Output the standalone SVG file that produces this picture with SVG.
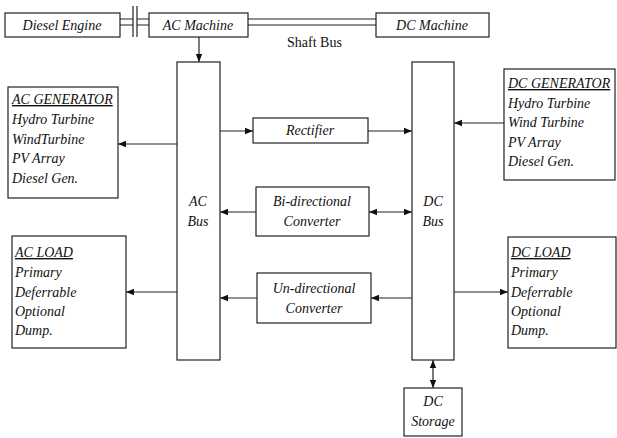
<svg xmlns="http://www.w3.org/2000/svg" width="617" height="438" viewBox="0 0 617 438">
<style>
.b{fill:#fff;stroke:#222;stroke-width:1.2}
.l{fill:none;stroke:#222;stroke-width:1.2}
.t{font-family:"Liberation Serif",serif;font-style:italic;font-size:14px;fill:#111}
.c{text-anchor:middle}
.r{font-family:"Liberation Serif",serif;font-size:14px;fill:#111}
</style>
<defs>
<marker id="a" viewBox="0 0 10 10" refX="10" refY="5" markerWidth="8" markerHeight="8" markerUnits="userSpaceOnUse" orient="auto-start-reverse"><path d="M0,1 L10,5 L0,9 z" fill="#111"/></marker>
</defs>
<rect width="617" height="438" fill="#fff"/>
<g id="connectors">
<path class="l" d="M120,19 H133 M120,25 H133 M137,19 H149 M137,25 H149 M133,6 V37 M137,6 V37"/>
<path class="l" d="M248,19 H376 M248,25 H376"/>
<line class="l" x1="199" y1="37" x2="199" y2="62" marker-end="url(#a)"/>
<line class="l" x1="177" y1="144" x2="118" y2="144" marker-end="url(#a)"/>
<line class="l" x1="504" y1="123" x2="454" y2="123" marker-end="url(#a)"/>
<line class="l" x1="177" y1="292" x2="126" y2="292" marker-end="url(#a)"/>
<line class="l" x1="454" y1="292" x2="508" y2="292" marker-end="url(#a)"/>
<line class="l" x1="220" y1="131" x2="253" y2="131" marker-end="url(#a)"/>
<line class="l" x1="368" y1="131" x2="412" y2="131" marker-end="url(#a)"/>
<line class="l" x1="256" y1="212" x2="220" y2="212" marker-end="url(#a)"/>
<line class="l" x1="369" y1="212" x2="412" y2="212" marker-start="url(#a)" marker-end="url(#a)"/>
<line class="l" x1="412" y1="298" x2="371" y2="298" marker-end="url(#a)"/>
<line class="l" x1="257" y1="298" x2="220" y2="298" marker-end="url(#a)"/>
<line class="l" x1="433" y1="360" x2="433" y2="388" marker-start="url(#a)" marker-end="url(#a)"/>
</g>
<text class="r" x="287" y="47">Shaft Bus</text>
<g id="diesel-engine"><rect class="b" x="5" y="13" width="115" height="24"/><text class="t c" x="62" y="30">Diesel Engine</text></g>
<g id="ac-machine"><rect class="b" x="149" y="13" width="99" height="24"/><text class="t c" x="198" y="30">AC Machine</text></g>
<g id="dc-machine"><rect class="b" x="376" y="13" width="113" height="24"/><text class="t c" x="432" y="30">DC Machine</text></g>
<g id="ac-bus"><rect class="b" x="177" y="62" width="43" height="298"/><text class="t c" x="198" y="206">AC</text><text class="t c" x="198" y="226">Bus</text></g>
<g id="dc-bus"><rect class="b" x="412" y="62" width="42" height="298"/><text class="t c" x="433" y="206">DC</text><text class="t c" x="433" y="226">Bus</text></g>
<g id="ac-generator"><rect class="b" x="8" y="87" width="110" height="111"/>
<text class="t" x="12" y="104" text-decoration="underline">AC GENERATOR</text>
<text class="t" x="12" y="124">Hydro Turbine</text>
<text class="t" x="12" y="143.5">WindTurbine</text>
<text class="t" x="12" y="163">PV Array</text>
<text class="t" x="12" y="182.5">Diesel Gen.</text></g>
<g id="dc-generator"><rect class="b" x="504" y="69" width="111" height="111"/>
<text class="t" x="508" y="88" text-decoration="underline">DC GENERATOR</text>
<text class="t" x="508" y="107.5">Hydro Turbine</text>
<text class="t" x="508" y="127">Wind Turbine</text>
<text class="t" x="508" y="146.5">PV Array</text>
<text class="t" x="508" y="166">Diesel Gen.</text></g>
<g id="ac-load"><rect class="b" x="12" y="236" width="114" height="112"/>
<text class="t" x="15" y="257" text-decoration="underline">AC LOAD</text>
<text class="t" x="15" y="277">Primary</text>
<text class="t" x="15" y="297">Deferrable</text>
<text class="t" x="15" y="316">Optional</text>
<text class="t" x="15" y="335">Dump.</text></g>
<g id="dc-load"><rect class="b" x="508" y="237" width="108" height="111"/>
<text class="t" x="511" y="257" text-decoration="underline">DC LOAD</text>
<text class="t" x="511" y="277">Primary</text>
<text class="t" x="511" y="297">Deferrable</text>
<text class="t" x="511" y="316">Optional</text>
<text class="t" x="511" y="335">Dump.</text></g>
<g id="rectifier"><rect class="b" x="253" y="118" width="115" height="25"/><text class="t c" x="310" y="135">Rectifier</text></g>
<g id="bi-converter"><rect class="b" x="256" y="187" width="113" height="49"/><text class="t c" x="312" y="206">Bi-directional</text><text class="t c" x="312" y="226">Converter</text></g>
<g id="un-converter"><rect class="b" x="257" y="273" width="114" height="50"/><text class="t c" x="314" y="293">Un-directional</text><text class="t c" x="314" y="313">Converter</text></g>
<g id="dc-storage"><rect class="b" x="404" y="388" width="58" height="48"/><text class="t c" x="433" y="406">DC</text><text class="t c" x="433" y="426">Storage</text></g>
</svg>
